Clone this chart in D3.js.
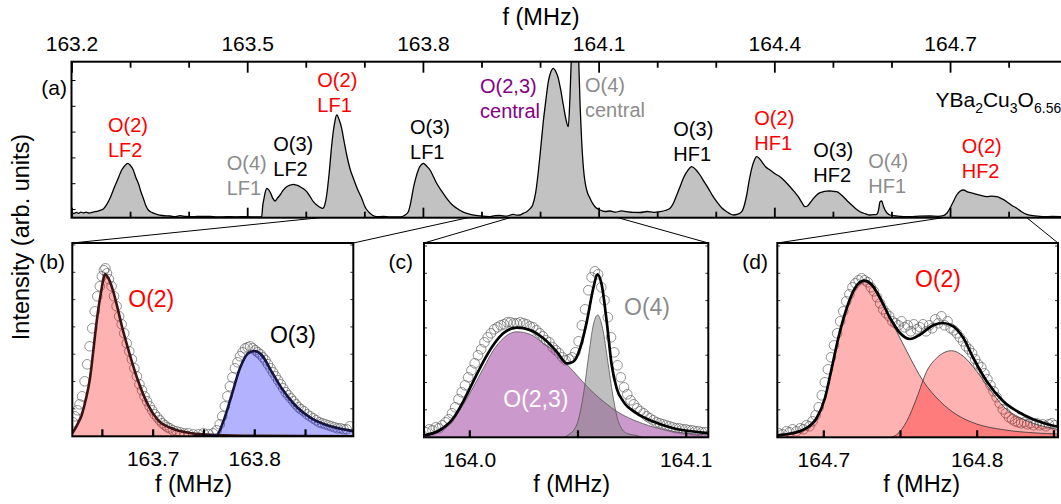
<!DOCTYPE html>
<html><head><meta charset="utf-8">
<script src="https://cdn.jsdelivr.net/npm/d3@7"></script>
<style>
body{margin:0;background:#fff;}
svg text{font-family:"Liberation Sans", Arial, Helvetica, sans-serif;}
</style></head><body>
<svg id="chart" width="1061" height="504"></svg>
<script>
// ---------------- DATA ----------------
// (a) full spectrum: [f (MHz), intensity (arb.)]
const spectrumA = [
[163.2000,5.0],[163.2040,4.2],[163.2080,5.4],[163.2120,4.4],[163.2160,5.6],[163.2200,4.8],[163.2250,5.5],[163.2300,4.6],[163.2350,5.3],[163.2400,6.0],[163.2450,6.5],[163.2500,7.5],[163.2543,8.7],[163.2600,13],[163.2657,19.4],[163.2715,28],[163.2772,36],[163.2815,42],[163.2857,47.7],[163.2910,52],[163.2960,54.4],[163.2999,52.7],[163.3055,47.7],[163.3100,40],[163.3141,34.4],[163.3185,26],[163.3226,19.4],[163.3270,12],[163.3311,7.7],[163.3380,5],[163.3455,3.4],[163.3550,2.2],[163.3682,1.7],[163.3780,1.0],[163.3853,2.0],[163.3950,1.2],[163.4080,1.0],[163.4200,1.4],[163.4365,1.2],[163.4500,0.8],[163.4650,1.0],[163.4800,0.9],[163.4991,1.0],[163.5150,0.8],[163.5247,1.0],
[163.5265,12],[163.5287,19.4],[163.5310,26],[163.5333,29.4],[163.5365,28],[163.5401,24.4],[163.5440,19],[163.5475,16.7],[163.5515,19.5],[163.5560,22.7],[163.5615,27.5],[163.5674,31],[163.5730,32.5],[163.5787,33.4],[163.5845,32.5],[163.5901,31],[163.5960,29],[163.6016,26],[163.6070,21.5],[163.6129,16],[163.6187,12.7],[163.6240,10.5],[163.6289,9.4],[163.6325,13],[163.6357,22.7],[163.6400,45],[163.6443,72.7],[163.6490,94],[163.6528,102.7],[163.6570,98],[163.6613,89.4],[163.6655,76],[163.6699,62.7],[163.6755,49],[163.6812,39.4],[163.6880,29],[163.6955,19.4],[163.7010,11],[163.7068,6],[163.7140,2.5],[163.7211,1.0],[163.7320,1.2],[163.7438,0.7],[163.7520,0.8],[163.7609,0.8],
[163.7690,2.5],[163.7751,6],[163.7795,16],[163.7836,29.4],[163.7880,40],[163.7921,47.7],[163.7965,52.5],[163.8007,54.4],[163.8065,51.5],[163.8121,47.7],[163.8180,41],[163.8235,34.4],[163.8320,26.5],[163.8406,19.4],[163.8490,13.5],[163.8577,9.4],[163.8690,5.5],[163.8804,3.4],[163.8970,1.8],[163.9146,1.0],[163.9230,2.0],[163.9316,2.2],[163.9420,1.5],[163.9543,3.4],[163.9600,2.5],[163.9658,2.7],[163.9720,4.5],[163.9772,6],[163.9830,9],[163.9874,12.7],[163.9925,25],[163.9970,46],[164.0012,70],[164.0055,96],[164.0100,118],[164.0141,136],[164.0185,146],[164.0226,149.4],[164.0270,146],[164.0312,139.4],[164.0355,127],[164.0397,112.7],[164.0440,99],[164.0482,91],[164.0510,120],[164.0540,170],[164.0597,215],[164.0653,170],[164.0685,110],[164.0711,76],[164.0740,50],[164.0767,36],[164.0810,25],[164.0853,19.4],[164.0900,14],[164.0938,11],[164.1024,7.7],[164.1110,6.2],[164.1195,6.7],[164.1290,5.6],[164.1390,6.8],[164.1480,6.0],[164.1590,5.3],[164.1707,5.2],[164.1830,6.2],[164.1940,5.4],[164.2049,6.0],[164.2140,7.2],[164.2220,9.4],
[164.2280,15],[164.2334,22.7],[164.2390,31],[164.2446,39.4],[164.2520,47],[164.2589,51],[164.2660,48],[164.2731,42.7],[164.2800,36],[164.2873,29.4],[164.2945,22],[164.3016,16],[164.3100,10],[164.3187,6],[164.3245,3.8],[164.3300,2.7],[164.3375,3.5],[164.3443,6],[164.3490,13],[164.3528,22.7],[164.3570,37],[164.3614,49.4],[164.3655,57],[164.3699,61],[164.3740,59.5],[164.3785,56],[164.3850,51],[164.3926,47.7],[164.4010,44],[164.4097,41],[164.4180,36.5],[164.4268,31],[164.4340,26],[164.4409,21],[164.4470,15],[164.4524,11],[164.4570,12],[164.4609,14.7],[164.4665,19],[164.4723,22.7],[164.4780,25],[164.4836,26],[164.4893,26.5],[164.4950,26.7],[164.5005,26.3],[164.5065,26],[164.5120,24],[164.5178,21],[164.5250,16.5],[164.5321,12.7],[164.5390,9],[164.5463,6],[164.5550,4],[164.5634,2.7],[164.5700,3.0],[164.5748,3.4],[164.5780,8],[164.5804,16],[164.5833,16.7],[164.5860,12],[164.5890,7.7],[164.5975,2.7],[164.6100,1.6],[164.6317,1.0],[164.6480,1.5],[164.6658,1.7],[164.6790,1.4],[164.6885,2.0],
[164.6945,4.5],[164.7000,9.4],[164.7055,16],[164.7114,22.7],[164.7170,26.5],[164.7227,27.7],[164.7310,25.5],[164.7398,24.4],[164.7510,22.5],[164.7627,21],[164.7710,21.5],[164.7797,21],[164.7880,19],[164.7968,16],[164.8050,12.5],[164.8138,9.4],[164.8220,6],[164.8309,3.4],[164.8450,1.8],[164.8593,1.0],[164.8750,1.2],[164.8912,1.0]
];

// (a) top-axis ticks
const topTickLabels = [163.2, 163.5, 163.8, 164.1, 164.4, 164.7];
const topTickMinor = [163.3, 163.4, 163.6, 163.7, 163.9, 164.0, 164.2, 164.3, 164.5, 164.6, 164.8];

// (a) peak annotations: anchor at [f, intensity] of first line
const peakLabels = [
  {kind:"O2",  lines:["O(2)","LF2"],       f:163.2623, I:86.2},
  {kind:"O4",  lines:["O(4)","LF1"],       f:163.4650, I:47.7},
  {kind:"O3",  lines:["O(3)","LF2"],       f:163.5445, I:67.2},
  {kind:"O2",  lines:["O(2)","LF1"],       f:163.6197, I:131.2},
  {kind:"O3",  lines:["O(3)","LF1"],       f:163.7780, I:83.7},
  {kind:"O23", lines:["O(2,3)","central"], f:163.8975, I:124.4},
  {kind:"O4",  lines:["O(4)","central"],   f:164.0767, I:125.4},
  {kind:"O3",  lines:["O(3)","HF1"],       f:164.2275, I:81.7},
  {kind:"O2",  lines:["O(2)","HF1"],       f:164.3658, I:92.7},
  {kind:"O3",  lines:["O(3)","HF2"],       f:164.4665, I:61.0},
  {kind:"O4",  lines:["O(4)","HF1"],       f:164.5604, I:49.4},
  {kind:"O2",  lines:["O(2)","HF2"],       f:164.7199, I:64.4}
];

// frequency windows in (a) that are magnified in (b), (c), (d)
const windowB = [163.624, 163.877];
const windowC = [163.9487, 164.133];
const windowD = [164.688, 164.831];

// (b) measured points and fits
const pointsB = [
[163.6215,14],[163.6235,20],[163.626,26],[163.628,32],[163.6305,40],[163.633,55],[163.6355,72],[163.638,90],[163.6405,108],[163.643,125],[163.6455,140],[163.648,150],[163.650,160],[163.652,166],[163.6535,168],[163.655,163],[163.657,157],[163.6595,150],[163.662,140],[163.6645,130],[163.667,120],[163.6695,112],[163.672,103],[163.6745,93],[163.677,85],[163.6795,77],[163.682,68],[163.6845,60],[163.687,52],[163.6895,46],[163.692,40],[163.6945,35],[163.697,30],[163.6995,26],[163.702,22],[163.7045,19],[163.707,16],[163.7095,13],[163.712,11],[163.7145,9],[163.717,8],[163.72,6],[163.7235,5],[163.727,4],[163.731,3],[163.735,3],[163.74,2],[163.745,2],[163.75,3],[163.755,2],[163.7595,3],[163.763,6],[163.766,12],[163.7685,20],[163.771,30],[163.7735,40],[163.776,50],[163.7785,59],[163.781,68],[163.7835,74],[163.786,80],[163.7885,84],[163.791,88],[163.7935,89],[163.796,90],[163.7985,88],[163.801,86],[163.8035,84],[163.806,82],[163.8085,79],[163.811,76],[163.8135,72],[163.816,68],[163.8185,64],[163.821,60],[163.8235,56],[163.826,52],[163.8285,48],[163.831,44],[163.8335,41],[163.836,38],[163.8385,35],[163.841,32],[163.8435,29],[163.846,27],[163.849,25],[163.852,22],[163.855,20],[163.858,18],[163.861,16],[163.864,14],[163.867,13],[163.870,12],[163.873,11],[163.876,10],[163.879,9],[163.882,8],[163.885,8],[163.888,7],[163.891,7],[163.894,10]
];
const fitB_O2 = [
[163.6209,3],[163.6260,12],[163.6301,21],[163.6340,36],[163.6383,58],[163.6415,85],[163.6449,115],[163.6490,143],[163.6531,162],[163.6570,157],[163.6612,145],[163.6655,128],[163.6695,111],[163.6777,81],[163.6858,55],[163.6957,31],[163.7055,16],[163.7187,8],[163.7384,3],[163.7613,1.3],[163.8000,0.4],[163.8975,0]
];
const fitB_O3 = [
[163.7400,0],[163.7630,1.3],[163.7695,14.7],[163.7778,41.3],[163.7859,68],[163.7941,83],[163.8000,85.3],[163.8073,81.3],[163.8171,64.7],[163.8270,48],[163.8400,31.3],[163.8565,18],[163.8762,9.7],[163.8975,5.2]
];

// (c) measured points and fits
const pointsC = [
[163.980,5],[163.9815,8],[163.983,7],[163.9845,10],[163.986,9],[163.9875,12],[163.989,15],[163.9905,18],[163.992,24],[163.9935,30],[163.995,38],[163.9965,45],[163.998,52],[163.9995,60],[164.001,67],[164.0025,74],[164.004,82],[164.0055,88],[164.007,95],[164.0085,100],[164.010,104],[164.0115,108],[164.013,110],[164.0145,112],[164.016,113],[164.0175,115],[164.019,115],[164.0205,114],[164.022,114],[164.0235,115],[164.025,114],[164.0265,113],[164.028,111],[164.0295,110],[164.031,107],[164.0325,104],[164.034,101],[164.0355,97],[164.037,95],[164.0385,90],[164.040,87],[164.0415,84],[164.043,80],[164.0445,77],[164.046,78],[164.0475,80],[164.049,85],[164.0505,96],[164.052,112],[164.0535,128],[164.055,147],[164.0565,160],[164.058,166],[164.0595,163],[164.061,150],[164.0625,137],[164.064,120],[164.0655,100],[164.067,85],[164.0685,72],[164.070,60],[164.0715,50],[164.073,43],[164.0745,37],[164.076,33],[164.0775,29],[164.079,26],[164.0805,24],[164.082,21],[164.0835,19],[164.085,17],[164.0865,15],[164.088,14],[164.0895,13],[164.091,12],[164.0925,11],[164.094,10],[164.0955,9],[164.097,9],[164.0985,8],[164.100,8],[164.1015,7],[164.103,7],[164.1045,6],[164.106,6],[164.1075,5],[164.109,5]
];
const fitC_total = [
[163.9791,2],[163.9865,7.3],[163.9926,19],[163.9972,35.7],[164.0018,55.7],[164.0065,75.7],[164.0111,92.3],[164.0157,104],[164.0219,109.7],[164.0281,107.3],[164.0342,99],[164.0404,85.7],[164.0450,74],[164.0481,75.7],[164.0512,89],[164.0543,115.7],[164.0573,149],[164.0592,163],[164.0612,152.3],[164.0635,115.7],[164.0658,72.3],[164.0681,49],[164.0712,35.7],[164.0774,24],[164.0850,15.7],[164.0943,9],[164.1081,4.7],[164.1104,4.3]
];
const fitC_O23 = [
[163.9791,1.8],[163.9865,6.5],[163.9926,17],[163.9972,32.7],[164.0018,50],[164.0065,69],[164.0111,87],[164.0157,99],[164.0219,105.5],[164.0281,103],[164.0342,94],[164.0404,84],[164.0450,73],[164.0481,66],[164.0543,51],[164.0619,36],[164.0696,24],[164.0774,16],[164.0881,8.5],[164.1005,4],[164.1104,2.5]
];
const fitC_O4 = [
[164.0440,0],[164.0457,2.3],[164.0496,12.3],[164.0527,42.3],[164.0550,79],[164.0573,112.3],[164.0593,122.3],[164.0616,109],[164.0640,75.7],[164.0663,42.3],[164.0689,15.7],[164.0727,4],[164.0774,1.7],[164.0800,0]
];

// (d) measured points and fits
const pointsD = [
[164.671,4],[164.6735,3],[164.676,6],[164.678,5],[164.680,8],[164.6825,6],[164.685,9],[164.687,8],[164.689,12],[164.691,11],[164.693,16],[164.695,22],[164.697,30],[164.699,42],[164.701,55],[164.703,68],[164.705,80],[164.707,92],[164.709,104],[164.711,116],[164.713,126],[164.715,136],[164.717,143],[164.719,150],[164.721,154],[164.723,157],[164.725,159],[164.727,157],[164.729,155],[164.731,150],[164.733,146],[164.735,140],[164.737,134],[164.739,128],[164.741,124],[164.743,121],[164.745,116],[164.747,114],[164.749,112],[164.751,116],[164.753,110],[164.755,112],[164.757,106],[164.759,113],[164.761,108],[164.763,110],[164.765,113],[164.767,106],[164.769,112],[164.771,109],[164.773,118],[164.775,114],[164.777,121],[164.779,112],[164.781,116],[164.783,109],[164.785,107],[164.787,104],[164.789,100],[164.791,96],[164.793,91],[164.795,88],[164.797,84],[164.799,78],[164.801,73],[164.803,70],[164.805,64],[164.807,58],[164.809,52],[164.811,46],[164.813,40],[164.815,34],[164.817,28],[164.819,24],[164.821,20],[164.823,18],[164.825,16],[164.827,15],[164.829,14],[164.831,15],[164.833,13],[164.835,14],[164.837,12],[164.839,14],[164.841,12],[164.843,13],[164.845,11],[164.847,13],[164.849,14],[164.851,12]
];
const fitD_total = [
[164.6700,1.8],[164.6739,2.6],[164.6870,7.6],[164.6957,19.3],[164.7011,39.3],[164.7055,69.3],[164.7098,99.3],[164.7153,129.3],[164.7207,149.3],[164.7265,156.6],[164.7316,152.6],[164.7370,139.3],[164.7435,119.3],[164.7500,104.3],[164.7565,98.3],[164.7630,102.6],[164.7717,112],[164.7782,114.3],[164.7847,111],[164.7913,99.3],[164.7978,79.3],[164.8065,56],[164.8173,36],[164.8304,22.6],[164.8434,14.3],[164.8530,10.5]
];
const fitD_c1 = [
[164.6700,1.8],[164.6739,2.6],[164.6870,7.6],[164.6957,19.3],[164.7011,39.3],[164.7055,69.3],[164.7098,99.3],[164.7153,129.3],[164.7207,149.3],[164.7265,156],[164.7316,151],[164.7370,137.6],[164.7456,112.6],[164.7544,86],[164.7652,56],[164.7761,36],[164.7870,22.6],[164.8000,13.3],[164.8173,7.6],[164.8391,4.3],[164.8530,3.3]
];
const fitD_c2 = [
[164.7440,0],[164.7478,2.6],[164.7544,16],[164.7609,39.3],[164.7674,66],[164.7739,79.3],[164.7837,86.6],[164.7913,81],[164.8000,66],[164.8087,47.6],[164.8173,31],[164.8304,18],[164.8434,11],[164.8530,8]
];

// zoom panels: ticks and labels
const ticksB = [163.65, 163.70, 163.75, 163.80, 163.85], labelsB = [163.7, 163.8];
const ticksC = [164.00, 164.05, 164.10],                labelsC = [164.0, 164.1];
const ticksD = [164.70, 164.75, 164.80, 164.85],        labelsD = [164.7, 164.8];

// ---------------- STYLE ----------------
const FONT = '"Liberation Sans", Arial, Helvetica, sans-serif';
const kindColor = {O2:"#ff0000", O3:"#000000", O4:"#8c8c8c", O23:"#850085"};

// ---------------- DRAW ----------------
const svg = d3.select("#chart");

function styleAxis(g, opts){
  g.select(".domain").remove();
  g.attr("font-family", FONT);
  g.selectAll(".tick line").attr("stroke","#000").attr("stroke-width", opts.sw || 1.5);
  g.selectAll(".tick text").attr("fill","#000").attr("font-size", opts.fs || 21);
}

// ===== panel (a) =====
const A = {l:71.5, t:61.7, b:217.7};
const xA = d3.scaleLinear().domain([163.2, 164.9]).range([A.l, A.l + 1.7*585.7]);
const yA = d3.scaleLinear().domain([0, 156]).range([A.b, A.t]);

svg.append("clipPath").attr("id","clipA").append("rect")
  .attr("x", A.l).attr("y", A.t).attr("width", 1100).attr("height", A.b - A.t);

const areaA = d3.area().x(d=>xA(d[0])).y0(yA(0)).y1(d=>yA(d[1])).curve(d3.curveMonotoneX);
const lineA = d3.line().x(d=>xA(d[0])).y(d=>yA(d[1])).curve(d3.curveMonotoneX);
const gA = svg.append("g").attr("clip-path","url(#clipA)");
gA.append("path").datum(spectrumA).attr("d", areaA).attr("fill","#c2c2c2");
gA.append("path").datum(spectrumA).attr("d", lineA).attr("fill","none").attr("stroke","#000").attr("stroke-width",1.3);

// frame
svg.append("rect").attr("x",A.l).attr("y",A.t).attr("width",1100).attr("height",A.b-A.t)
  .attr("fill","none").attr("stroke","#000").attr("stroke-width",2);

// top axis
svg.append("g").attr("transform",`translate(0,${A.t})`)
  .call(d3.axisTop(xA).tickValues(topTickMinor).tickSize(-6).tickFormat(""))
  .call(g=>styleAxis(g,{sw:1.8}));
svg.append("g").attr("transform",`translate(0,${A.t})`)
  .call(d3.axisTop(xA).tickValues(topTickLabels).tickSize(-11).tickPadding(10.5).tickFormat(d3.format(".1f")))
  .call(g=>styleAxis(g,{sw:1.8, fs:21}));
// bottom axis ticks
svg.append("g").attr("transform",`translate(0,${A.b})`)
  .call(d3.axisBottom(xA).tickValues(topTickMinor).tickSize(-6).tickFormat(""))
  .call(g=>styleAxis(g,{sw:1.8}));
svg.append("g").attr("transform",`translate(0,${A.b})`)
  .call(d3.axisBottom(xA).tickValues(topTickLabels).tickSize(-10).tickFormat(""))
  .call(g=>styleAxis(g,{sw:1.8}));
// left minor ticks
svg.append("g").attr("transform",`translate(${A.l},0)`)
  .call(d3.axisLeft(yA).tickValues(d3.range(8.7,156,25.8)).tickSize(-4).tickFormat(""))
  .call(g=>styleAxis(g,{sw:1}));

svg.append("text").attr("x", 541).attr("y", 24.5).attr("text-anchor","middle")
  .attr("font-size",23.5).attr("font-family",FONT).text("f (MHz)");
svg.append("text").attr("x", 67).attr("y", 95).attr("text-anchor","end")
  .attr("font-size",21).attr("font-family",FONT).text("(a)");

// peak annotations
peakLabels.forEach(p=>{
  const t = svg.append("text").attr("font-family",FONT).attr("font-size",20)
    .attr("fill", kindColor[p.kind]).attr("x", xA(p.f)).attr("y", yA(p.I));
  p.lines.forEach((s,i)=>{
    t.append("tspan").attr("x", xA(p.f)).attr("dy", i===0 ? 0 : 25).text(s);
  });
});

// compound label
const comp = svg.append("text").attr("font-family",FONT).attr("font-size",21)
  .attr("x", xA(164.6751)).attr("y", yA(111));
comp.append("tspan").text("YBa");
comp.append("tspan").attr("font-size",14).attr("dy",6).text("2");
comp.append("tspan").attr("dy",-6).text("Cu");
comp.append("tspan").attr("font-size",14).attr("dy",6).text("3");
comp.append("tspan").attr("dy",-6).text("O");
comp.append("tspan").attr("font-size",14).attr("dy",6).text("6.56");

// y-axis title
svg.append("text").attr("transform","translate(29,237) rotate(-90)")
  .attr("text-anchor","middle").attr("font-size",23.5).attr("font-family",FONT)
  .text("Intensity (arb. units)");

// ===== zoom panels =====
function zoomPanel(cfg){
  const x = d3.scaleLinear().domain(cfg.domain).range([cfg.l, cfg.r]);
  const y = d3.scaleLinear().domain([0, cfg.b - cfg.t]).range([cfg.b, cfg.t]);
  const id = "clip" + cfg.name;
  svg.append("clipPath").attr("id", id).append("rect")
    .attr("x", cfg.l).attr("y", cfg.t).attr("width", cfg.r-cfg.l).attr("height", cfg.b-cfg.t);
  const g = svg.append("g").attr("clip-path", `url(#${id})`);

  // connector lines to (a)
  svg.append("line").attr("x1", xA(cfg.win[0])).attr("y1", A.b).attr("x2", cfg.l).attr("y2", cfg.t)
    .attr("stroke","#000").attr("stroke-width",1);
  svg.append("line").attr("x1", xA(cfg.win[1])).attr("y1", A.b).attr("x2", cfg.r).attr("y2", cfg.t)
    .attr("stroke","#000").attr("stroke-width",1);

  // data points
  g.selectAll("circle.pt").data(cfg.points).join("circle").attr("class","pt")
    .attr("cx", d=>x(d[0])).attr("cy", d=>y(d[1])).attr("r", 4.8)
    .attr("fill","none").attr("stroke","#555").attr("stroke-width",0.8).attr("stroke-opacity",0.8);

  const area = d3.area().x(d=>x(d[0])).y0(y(0)).y1(d=>y(d[1])).curve(d3.curveMonotoneX);
  const line = d3.line().x(d=>x(d[0])).y(d=>y(d[1])).curve(d3.curveMonotoneX);
  cfg.comps.forEach(c=>{
    g.append("path").datum(c.data).attr("d", area).attr("fill", c.fill).attr("fill-opacity", c.op);
  });
  cfg.comps.forEach(c=>{
    g.append("path").datum(c.data).attr("d", line).attr("fill","none")
      .attr("stroke", c.stroke).attr("stroke-width", c.sw);
  });
  if (cfg.total) {
    g.append("path").datum(cfg.total).attr("d", line).attr("fill","none")
      .attr("stroke","#000").attr("stroke-width",2.7);
  }

  // frame
  svg.append("rect").attr("x",cfg.l).attr("y",cfg.t).attr("width",cfg.r-cfg.l).attr("height",cfg.b-cfg.t)
    .attr("fill","none").attr("stroke","#000").attr("stroke-width",2);

  // ticks
  svg.append("g").attr("transform",`translate(0,${cfg.b})`)
    .call(d3.axisBottom(x).tickValues(cfg.ticks).tickSize(-7).tickFormat(""))
    .call(g=>styleAxis(g,{sw:2.2}));
  svg.append("g").attr("transform",`translate(0,${cfg.b})`)
    .call(d3.axisBottom(x).tickValues(cfg.labels).tickSize(0).tickPadding(15).tickFormat(d3.format(".1f")))
    .call(g=>styleAxis(g,{fs:21}));
  svg.append("g").attr("transform",`translate(${cfg.l},0)`)
    .call(d3.axisLeft(y).tickValues(d3.range(28, cfg.b-cfg.t, 27.3)).tickSize(-3).tickFormat(""))
    .call(g=>styleAxis(g,{sw:0.8}));
  svg.append("g").attr("transform",`translate(${cfg.r},0)`)
    .call(d3.axisRight(y).tickValues(d3.range(28, cfg.b-cfg.t, 27.3)).tickSize(-3).tickFormat(""))
    .call(g=>styleAxis(g,{sw:0.8}));

  svg.append("text").attr("x", cfg.titleX).attr("y", 492).attr("text-anchor","middle")
    .attr("font-size",23.5).attr("font-family",FONT).text("f (MHz)");
  svg.append("text").attr("x", cfg.letterX).attr("y", 269).attr("text-anchor","end")
    .attr("font-size",21).attr("font-family",FONT).text(cfg.letter);

  cfg.notes.forEach(n=>{
    svg.append("text").attr("x", x(n.f)).attr("y", y(n.I)).attr("font-size",23)
      .attr("font-family",FONT).attr("fill", n.color).text(n.text);
  });
}

zoomPanel({name:"B", l:72.3, r:353.3, t:243, b:436.3, domain:[163.6209, 163.8975], win:windowB,
  points:pointsB, ticks:ticksB, labels:labelsB, titleX:193.5, letter:"(b)", letterX:65,
  comps:[
    {data:fitB_O2, fill:"#ff0000", op:0.3, stroke:"#3a1414", sw:2.6},
    {data:fitB_O3, fill:"#0000ff", op:0.3, stroke:"#14143c", sw:2.6}],
  notes:[{text:"O(2)", f:163.6760, I:129.8, color:kindColor.O2},
         {text:"O(3)", f:163.8155, I:93.3, color:kindColor.O3}]});

zoomPanel({name:"C", l:424, r:708.3, t:243, b:437.3, domain:[163.97907, 164.11044], win:windowC,
  points:pointsC, ticks:ticksC, labels:labelsC, titleX:571.7, letter:"(c)", letterX:413,
  comps:[
    {data:fitC_O23, fill:"#993399", op:0.5, stroke:"#555", sw:0.8},
    {data:fitC_O4, fill:"#7f7f7f", op:0.5, stroke:"#555", sw:0.8}],
  total:fitC_total,
  notes:[{text:"O(4)", f:164.0715, I:122.3, color:kindColor.O4},
         {text:"O(2,3)", f:164.0157, I:30.8, color:"#ffffff"}]});

zoomPanel({name:"D", l:777.3, r:1058, t:243, b:437.3, domain:[164.67001, 164.8530], win:windowD,
  points:pointsD, ticks:ticksD, labels:labelsD, titleX:921.7, letter:"(d)", letterX:768,
  comps:[
    {data:fitD_c1, fill:"#ff0000", op:0.3, stroke:"#333", sw:0.8},
    {data:fitD_c2, fill:"#ff0000", op:0.3, stroke:"#333", sw:0.8}],
  total:fitD_total,
  notes:[{text:"O(2)", f:164.7598, I:150.8, color:kindColor.O2}]});
</script>
</body></html>
